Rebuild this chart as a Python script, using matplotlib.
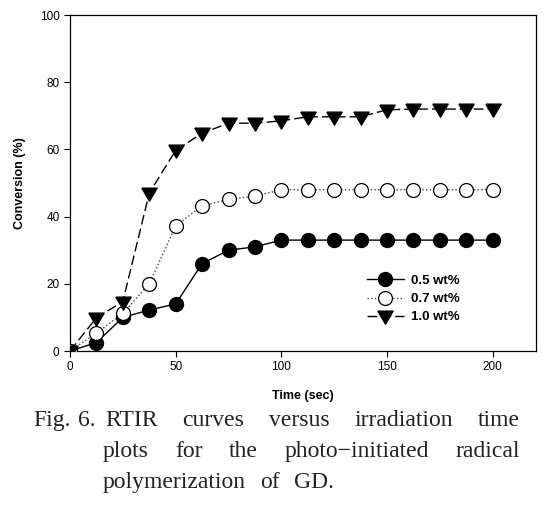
import matplotlib
matplotlib.use("Agg")
import matplotlib.pyplot as plt

time = [0, 12.5, 25, 37.5, 50, 62.5, 75, 87.5, 100, 112.5, 125, 137.5, 150, 162.5, 175, 187.5, 200]
conv_05 = [0, 2.5, 10, 12.2, 14, 26, 30, 31, 33, 33, 33, 33, 33, 33, 33, 33, 33]
conv_07 = [0, 5.3, 11.2, 20, 37.2, 43.2, 45.1, 46.1, 48, 48, 48, 48, 48, 48, 48, 48, 48]
conv_10 = [0, 9.9, 14.7, 47, 59.7, 64.8, 67.8, 67.8, 68.5, 69.7, 69.7, 69.7, 71.8, 72, 72, 72, 72]
labels = ["0.5 wt%", "0.7 wt%", "1.0 wt%"]
xticks = [0, 50, 100, 150, 200]
yticks = [0, 20, 40, 60, 80, 100]

plt.rcParams['font.family'] = ['Liberation Sans', 'DejaVu Sans']
W, H = 556, 519
fig = plt.figure(figsize=(W/100, H/100), dpi=100)
ax = fig.add_axes([70/W, 1-351/H, (536-70)/W, (351-15)/H])

tri = [(-1, 0.7), (1, 0.7), (0, -1), (-1, 0.7)]

ax.plot(time, conv_05, '-', color='black', lw=1.0, marker='o', ms=10,
        mfc='black', mec='black', label=labels[0], zorder=3)
ax.plot(time, conv_07, ':', color='#444444', lw=1.0, marker='o', ms=10,
        mfc='white', mec='black', mew=0.9, label=labels[1], zorder=3)
ax.plot(time, conv_10, color='black', lw=1.0, dashes=(7, 3), marker=tri, ms=11,
        mfc='black', mec='black', label=labels[2], zorder=3)

ax.set_xlim(0, 220.5)
ax.set_ylim(0, 100)
ax.set_xticks(xticks)
ax.set_yticks(yticks)
ax.tick_params(direction='out', length=4, width=0.8, labelsize=8.5, colors='black')
for s in ax.spines.values():
    s.set_linewidth(0.9)
ax.set_xlabel('Time (sec)', fontsize=9, fontweight='bold', labelpad=12)
ax.set_ylabel('Conversion (%)', fontsize=9, fontweight='bold', labelpad=10)

leg = ax.legend(loc='center left',
                bbox_to_anchor=((366.5 - 70) / 466, (351 - 299) / 336),
                frameon=False, prop={'weight': 'bold', 'size': 9.5},
                handlelength=2.85, handletextpad=0.55, labelspacing=0.45,
                borderaxespad=0, borderpad=0)

# caption (justified lines)
cap_font = dict(family=['Liberation Serif', 'DejaVu Serif'], fontsize=17, color='#222222')
fig.canvas.draw()
renderer = fig.canvas.get_renderer()

def word_width(w):
    t = fig.text(0, 0, w, **cap_font)
    wd = t.get_window_extent(renderer).width
    t.remove()
    return wd

def place_justified(words, x0, x1, y):
    widths = [word_width(w) for w in words]
    gap = (x1 - x0 - sum(widths)) / (len(words) - 1)
    x = x0
    for w, wd in zip(words, widths):
        fig.text(x / W, 1 - y / H, w, va='baseline', ha='left', **cap_font)
        x += wd + gap

def place_spaced(words, x0, y, gap):
    x = x0
    for w in words:
        fig.text(x / W, 1 - y / H, w, va='baseline', ha='left', **cap_font)
        x += word_width(w) + gap

fig.text(33 / W, 1 - 426 / H, "Fig.", va='baseline', ha='left', **cap_font)
fig.text(78 / W, 1 - 426 / H, "6.", va='baseline', ha='left', **cap_font)
place_justified(["RTIR", "curves", "versus", "irradiation", "time"], 105, 520, 426)
place_justified(["plots", "for", "the", "photo\u2212initiated", "radical"], 103, 520, 457)
place_spaced(["polymerization", "of", "GD."], 103, 488, 14)

fig.savefig('out.png', dpi=100)
